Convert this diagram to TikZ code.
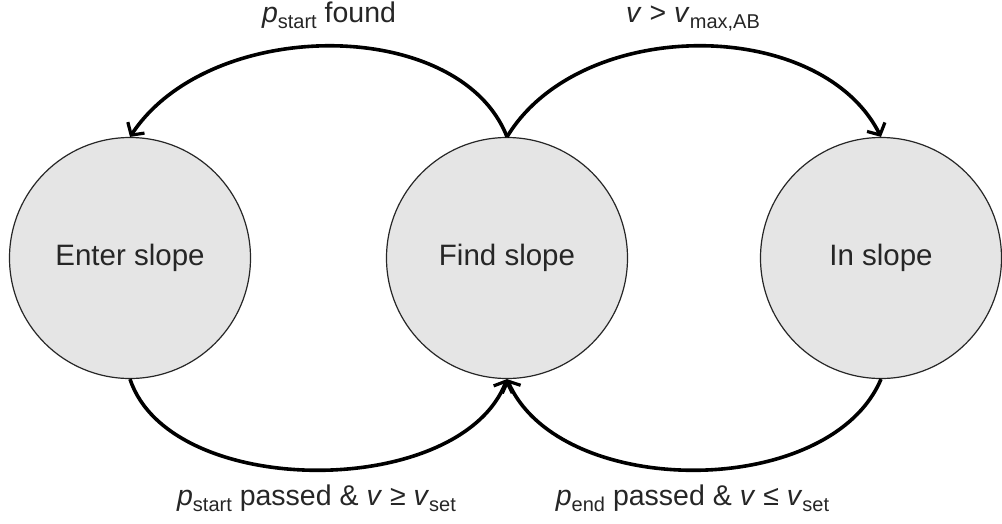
\documentclass[tikz,border=0pt]{standalone}
\usepackage{fontspec}
\setmainfont{Liberation Sans}
\usetikzlibrary{arrows.meta}
\newcommand{\lsub}[1]{\raisebox{-0.22em}{\fontsize{20}{20}\selectfont #1}}
\definecolor{statefill}{HTML}{E5E5E5}
\begin{document}
\begin{tikzpicture}[x=1pt,y=-1pt,
  state/.style={circle,draw=black!85,line width=1.2pt,fill=statefill,minimum size=241pt,inner sep=0pt,
    font=\fontsize{29.5}{34}\selectfont, text=black!85},
  trans/.style={line width=3.6pt,-{Straight Barb[length=9pt,width=20pt,line width=3.2pt]}},
  lbl/.style={anchor=base,inner sep=0pt,font=\fontsize{28.5}{34}\selectfont, text=black!85}]
\useasboundingbox (0,0) rectangle (1002,523);
\node[state] (enter) at (130,258) {Enter slope};
\node[state] (find) at (507,258) {Find slope};
\node[state] (in) at (881,258) {In slope};
\draw[trans] (find.north) .. controls +(-47,-121) and +(80,-121) .. (enter.north);
\draw[trans] (find.north) .. controls +(73,-121) and +(-61,-121) .. (in.north);
\draw[trans] (enter.south) .. controls +(40,121) and +(-47,121) .. (find.south);
\draw[trans] (in.south) .. controls +(-51,121) and +(53,121) .. (find.south);
\node[lbl] (l1) at (329,22) {\textit{p}\lsub{start} found};
\node[lbl] (l2) at (693,22) {\textit{v} > \textit{v}\lsub{max,AB}};
\node[lbl] (l3) at (316.5,505) {\textit{p}\lsub{start} passed \& \textit{v} ≥ \textit{v}\lsub{set}};
\node[lbl] (l4) at (692.5,505) {\textit{p}\lsub{end} passed \& \textit{v} ≤ \textit{v}\lsub{set}};
\end{tikzpicture}
\end{document}
